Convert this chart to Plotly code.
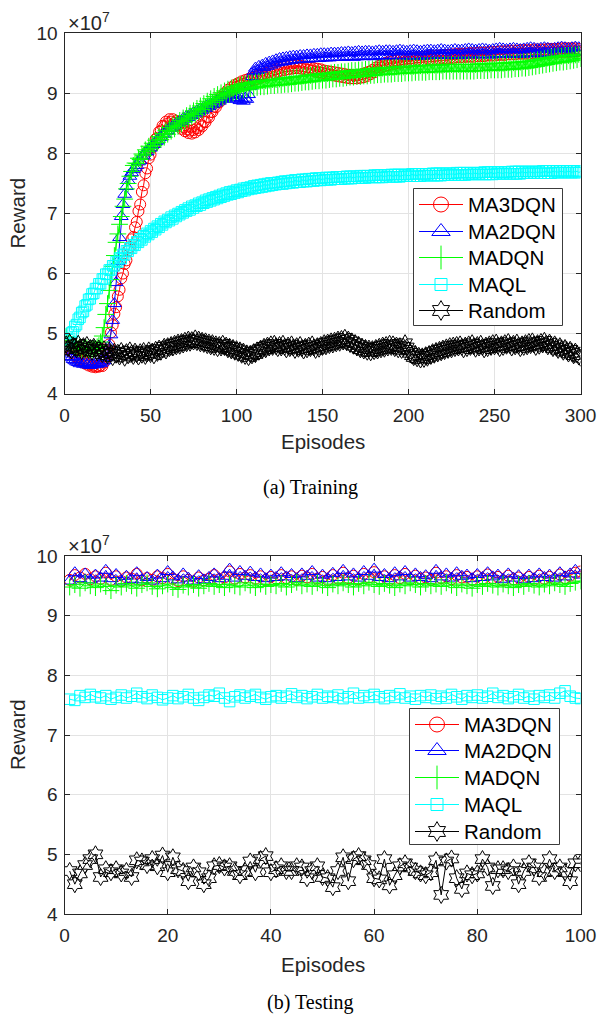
import plotly.graph_objects as go

# Reward values are in units of 1e7 (the axis carries the "x10^7" multiplier).
episodes_train = list(range(1, 301))
episodes_test = list(range(1, 101))

ma3dqn_train = [
    4.80, 4.76, 4.78, 4.70, 4.68, 4.63, 4.61, 4.58, 4.57, 4.53, 4.55, 4.50, 4.51, 4.47, 4.49, 4.45, 4.47, 4.44, 4.46, 4.45,
    4.47, 4.46, 4.52, 4.58, 4.70, 4.82, 5.02, 5.14, 5.33, 5.44, 5.62, 5.73, 5.92, 6.00, 6.16, 6.22, 6.38, 6.44, 6.57, 6.61,
    6.77, 6.86, 7.04, 7.15, 7.36, 7.47, 7.67, 7.75, 7.92, 7.98, 8.10, 8.13, 8.24, 8.26, 8.36, 8.38, 8.46, 8.45, 8.53, 8.50,
    8.57, 8.53, 8.57, 8.51, 8.54, 8.47, 8.49, 8.41, 8.44, 8.37, 8.40, 8.34, 8.38, 8.33, 8.39, 8.35, 8.42, 8.39, 8.47, 8.45,
    8.53, 8.52, 8.61, 8.60, 8.69, 8.69, 8.78, 8.77, 8.86, 8.85, 8.94, 8.92, 9.00, 8.98, 9.06, 9.03, 9.10, 9.06, 9.14, 9.11,
    9.17, 9.13, 9.20, 9.16, 9.22, 9.18, 9.24, 9.20, 9.26, 9.22, 9.28, 9.24, 9.30, 9.26, 9.32, 9.28, 9.34, 9.30, 9.36, 9.32,
    9.38, 9.34, 9.40, 9.36, 9.42, 9.38, 9.44, 9.39, 9.45, 9.40, 9.46, 9.41, 9.46, 9.42, 9.47, 9.42, 9.46, 9.41, 9.45, 9.40,
    9.44, 9.39, 9.43, 9.38, 9.42, 9.36, 9.41, 9.35, 9.40, 9.34, 9.38, 9.33, 9.37, 9.31, 9.36, 9.30, 9.35, 9.29, 9.34, 9.28,
    9.33, 9.27, 9.32, 9.26, 9.31, 9.25, 9.31, 9.25, 9.30, 9.25, 9.31, 9.26, 9.32, 9.27, 9.34, 9.29, 9.36, 9.32, 9.39, 9.35,
    9.43, 9.39, 9.46, 9.43, 9.49, 9.45, 9.51, 9.47, 9.53, 9.48, 9.54, 9.49, 9.55, 9.50, 9.56, 9.51, 9.57, 9.52, 9.58, 9.52,
    9.58, 9.53, 9.59, 9.54, 9.60, 9.54, 9.60, 9.55, 9.61, 9.55, 9.61, 9.56, 9.62, 9.56, 9.62, 9.57, 9.63, 9.57, 9.63, 9.58,
    9.64, 9.58, 9.64, 9.59, 9.65, 9.59, 9.65, 9.60, 9.66, 9.60, 9.66, 9.60, 9.66, 9.61, 9.67, 9.61, 9.67, 9.61, 9.67, 9.62,
    9.68, 9.62, 9.68, 9.62, 9.68, 9.63, 9.69, 9.63, 9.69, 9.63, 9.69, 9.64, 9.70, 9.64, 9.70, 9.64, 9.70, 9.65, 9.71, 9.65,
    9.71, 9.65, 9.71, 9.66, 9.72, 9.66, 9.72, 9.66, 9.72, 9.66, 9.72, 9.67, 9.73, 9.67, 9.73, 9.67, 9.73, 9.67, 9.73, 9.68,
    9.74, 9.68, 9.74, 9.68, 9.74, 9.68, 9.74, 9.69, 9.75, 9.69, 9.75, 9.69, 9.75, 9.69, 9.75, 9.70, 9.75, 9.70, 9.74, 9.70,
]

ma2dqn_train = [
    4.70, 4.66, 4.62, 4.60, 4.57, 4.55, 4.53, 4.52, 4.50, 4.52, 4.49, 4.51, 4.48, 4.50, 4.47, 4.49, 4.48, 4.50, 4.49, 4.52,
    4.50, 4.53, 4.55, 4.60, 4.68, 4.80, 4.98, 5.22, 5.50, 5.85, 6.20, 6.60, 6.95, 7.15, 7.32, 7.45, 7.55, 7.62, 7.68, 7.73,
    7.76, 7.80, 7.86, 7.88, 7.95, 7.96, 8.02, 8.03, 8.08, 8.09, 8.14, 8.15, 8.20, 8.21, 8.26, 8.27, 8.32, 8.32, 8.37, 8.38,
    8.42, 8.42, 8.46, 8.46, 8.50, 8.50, 8.54, 8.53, 8.58, 8.57, 8.62, 8.60, 8.65, 8.63, 8.68, 8.66, 8.71, 8.69, 8.74, 8.72,
    8.77, 8.75, 8.80, 8.78, 8.83, 8.81, 8.86, 8.84, 8.89, 8.87, 8.92, 8.90, 8.95, 8.92, 8.97, 8.93, 8.98, 8.92, 8.96, 8.90,
    8.93, 8.88, 8.91, 8.87, 8.92, 8.90, 8.98, 9.12, 9.28, 9.36, 9.42, 9.38, 9.45, 9.40, 9.47, 9.43, 9.50, 9.45, 9.52, 9.47,
    9.54, 9.49, 9.56, 9.51, 9.58, 9.52, 9.59, 9.53, 9.60, 9.54, 9.61, 9.55, 9.62, 9.56, 9.62, 9.56, 9.63, 9.57, 9.63, 9.57,
    9.64, 9.57, 9.64, 9.58, 9.65, 9.58, 9.65, 9.58, 9.66, 9.59, 9.66, 9.59, 9.66, 9.59, 9.67, 9.60, 9.67, 9.60, 9.67, 9.60,
    9.68, 9.60, 9.68, 9.61, 9.69, 9.61, 9.68, 9.60, 9.69, 9.61, 9.70, 9.62, 9.69, 9.61, 9.70, 9.62, 9.70, 9.62, 9.69, 9.61,
    9.70, 9.62, 9.71, 9.63, 9.70, 9.62, 9.71, 9.63, 9.71, 9.62, 9.70, 9.63, 9.71, 9.63, 9.72, 9.63, 9.71, 9.62, 9.70, 9.62,
    9.71, 9.63, 9.72, 9.63, 9.71, 9.62, 9.70, 9.62, 9.71, 9.63, 9.72, 9.64, 9.72, 9.63, 9.71, 9.63, 9.72, 9.64, 9.73, 9.64,
    9.72, 9.63, 9.71, 9.63, 9.72, 9.64, 9.73, 9.64, 9.72, 9.63, 9.72, 9.64, 9.73, 9.65, 9.74, 9.65, 9.73, 9.64, 9.72, 9.64,
    9.73, 9.65, 9.74, 9.65, 9.73, 9.64, 9.72, 9.64, 9.73, 9.65, 9.74, 9.66, 9.75, 9.66, 9.74, 9.65, 9.73, 9.65, 9.74, 9.66,
    9.75, 9.66, 9.74, 9.65, 9.73, 9.65, 9.74, 9.66, 9.75, 9.67, 9.76, 9.67, 9.75, 9.66, 9.74, 9.66, 9.75, 9.67, 9.76, 9.67,
    9.75, 9.66, 9.74, 9.66, 9.75, 9.67, 9.76, 9.68, 9.77, 9.68, 9.76, 9.67, 9.75, 9.67, 9.76, 9.68, 9.77, 9.69, 9.76, 9.70,
]

madqn_train = [
    4.95, 4.88, 4.84, 4.80, 4.82, 4.77, 4.80, 4.75, 4.78, 4.74, 4.77, 4.73, 4.76, 4.72, 4.75, 4.73, 4.76, 4.74, 4.78, 4.80,
    4.86, 4.96, 5.10, 5.32, 5.50, 5.72, 5.90, 6.12, 6.30, 6.52, 6.66, 6.82, 6.95, 7.12, 7.24, 7.41, 7.50, 7.62, 7.70, 7.80,
    7.84, 7.83, 7.92, 7.90, 7.99, 7.97, 8.06, 8.03, 8.12, 8.08, 8.17, 8.13, 8.22, 8.18, 8.28, 8.23, 8.33, 8.27, 8.38, 8.32,
    8.43, 8.37, 8.47, 8.41, 8.51, 8.45, 8.55, 8.49, 8.59, 8.53, 8.63, 8.57, 8.67, 8.61, 8.71, 8.65, 8.75, 8.69, 8.79, 8.73,
    8.83, 8.77, 8.87, 8.81, 8.91, 8.85, 8.95, 8.88, 8.98, 8.91, 9.01, 8.94, 9.04, 8.97, 9.07, 8.99, 9.09, 9.01, 9.11, 9.03,
    9.13, 9.05, 9.15, 9.06, 9.16, 9.07, 9.17, 9.08, 9.18, 9.09, 9.19, 9.10, 9.20, 9.11, 9.21, 9.11, 9.21, 9.12, 9.22, 9.13,
    9.23, 9.13, 9.23, 9.14, 9.24, 9.14, 9.25, 9.15, 9.26, 9.15, 9.26, 9.16, 9.27, 9.17, 9.28, 9.17, 9.28, 9.18, 9.29, 9.19,
    9.30, 9.19, 9.30, 9.20, 9.31, 9.21, 9.32, 9.21, 9.32, 9.22, 9.33, 9.22, 9.33, 9.23, 9.34, 9.24, 9.35, 9.24, 9.35, 9.25,
    9.36, 9.25, 9.36, 9.26, 9.37, 9.27, 9.38, 9.27, 9.38, 9.28, 9.39, 9.28, 9.39, 9.29, 9.40, 9.29, 9.40, 9.30, 9.41, 9.30,
    9.41, 9.31, 9.42, 9.31, 9.42, 9.32, 9.43, 9.32, 9.43, 9.32, 9.43, 9.33, 9.44, 9.33, 9.44, 9.33, 9.44, 9.34, 9.45, 9.34,
    9.45, 9.34, 9.45, 9.35, 9.46, 9.35, 9.46, 9.35, 9.46, 9.35, 9.46, 9.36, 9.47, 9.36, 9.47, 9.36, 9.47, 9.36, 9.47, 9.37,
    9.48, 9.37, 9.48, 9.37, 9.48, 9.37, 9.48, 9.37, 9.48, 9.37, 9.48, 9.37, 9.48, 9.37, 9.48, 9.37, 9.48, 9.37, 9.48, 9.38,
    9.49, 9.38, 9.49, 9.38, 9.49, 9.38, 9.49, 9.39, 9.50, 9.39, 9.50, 9.39, 9.50, 9.39, 9.50, 9.40, 9.51, 9.40, 9.51, 9.40,
    9.51, 9.41, 9.52, 9.41, 9.52, 9.42, 9.53, 9.42, 9.53, 9.43, 9.54, 9.44, 9.55, 9.45, 9.56, 9.46, 9.57, 9.47, 9.58, 9.48,
    9.59, 9.49, 9.60, 9.50, 9.61, 9.51, 9.62, 9.52, 9.62, 9.52, 9.63, 9.53, 9.63, 9.54, 9.64, 9.55, 9.64, 9.56, 9.65, 9.58,
]

maql_train = [
    4.82, 4.90, 4.92, 5.01, 5.03, 5.12, 5.15, 5.24, 5.27, 5.35, 5.37, 5.46, 5.48, 5.57, 5.58, 5.66, 5.67, 5.75, 5.75, 5.83,
    5.83, 5.91, 5.91, 5.99, 5.99, 6.06, 6.06, 6.13, 6.13, 6.20, 6.19, 6.26, 6.25, 6.32, 6.31, 6.38, 6.37, 6.43, 6.42, 6.48,
    6.47, 6.53, 6.52, 6.58, 6.56, 6.63, 6.61, 6.67, 6.65, 6.71, 6.69, 6.75, 6.73, 6.79, 6.77, 6.83, 6.81, 6.87, 6.85, 6.90,
    6.88, 6.94, 6.91, 6.97, 6.95, 7.00, 6.98, 7.03, 7.01, 7.06, 7.04, 7.09, 7.06, 7.12, 7.09, 7.14, 7.12, 7.17, 7.14, 7.19,
    7.17, 7.22, 7.19, 7.24, 7.21, 7.26, 7.23, 7.28, 7.25, 7.30, 7.27, 7.32, 7.29, 7.34, 7.31, 7.36, 7.32, 7.37, 7.34, 7.39,
    7.35, 7.40, 7.37, 7.42, 7.38, 7.43, 7.40, 7.44, 7.41, 7.46, 7.42, 7.47, 7.43, 7.48, 7.44, 7.49, 7.45, 7.50, 7.46, 7.51,
    7.47, 7.51, 7.48, 7.52, 7.49, 7.53, 7.49, 7.54, 7.50, 7.54, 7.51, 7.55, 7.51, 7.56, 7.52, 7.56, 7.52, 7.57, 7.53, 7.57,
    7.53, 7.58, 7.54, 7.58, 7.54, 7.59, 7.55, 7.59, 7.55, 7.59, 7.56, 7.60, 7.56, 7.60, 7.56, 7.60, 7.57, 7.61, 7.57, 7.61,
    7.57, 7.61, 7.58, 7.62, 7.58, 7.62, 7.58, 7.62, 7.59, 7.62, 7.59, 7.63, 7.59, 7.63, 7.59, 7.63, 7.60, 7.63, 7.60, 7.64,
    7.60, 7.64, 7.60, 7.64, 7.60, 7.64, 7.61, 7.64, 7.61, 7.65, 7.61, 7.65, 7.61, 7.65, 7.61, 7.65, 7.62, 7.65, 7.62, 7.65,
    7.62, 7.66, 7.62, 7.66, 7.62, 7.66, 7.62, 7.66, 7.63, 7.66, 7.63, 7.66, 7.63, 7.67, 7.63, 7.67, 7.63, 7.67, 7.63, 7.67,
    7.64, 7.67, 7.64, 7.67, 7.64, 7.67, 7.64, 7.68, 7.64, 7.68, 7.64, 7.68, 7.64, 7.68, 7.65, 7.68, 7.65, 7.68, 7.65, 7.68,
    7.65, 7.68, 7.65, 7.69, 7.65, 7.69, 7.65, 7.69, 7.65, 7.69, 7.66, 7.69, 7.66, 7.69, 7.66, 7.69, 7.66, 7.69, 7.66, 7.70,
    7.66, 7.70, 7.66, 7.70, 7.66, 7.70, 7.67, 7.70, 7.67, 7.70, 7.67, 7.70, 7.67, 7.70, 7.67, 7.70, 7.67, 7.71, 7.67, 7.71,
    7.67, 7.71, 7.67, 7.71, 7.68, 7.71, 7.68, 7.71, 7.68, 7.71, 7.68, 7.71, 7.68, 7.71, 7.68, 7.71, 7.68, 7.71, 7.68, 7.70,
]

random_train = [
    4.82, 4.76, 4.85, 4.72, 4.80, 4.78, 4.74, 4.83, 4.77, 4.71, 4.79, 4.75, 4.81, 4.73, 4.76, 4.70, 4.78, 4.74, 4.69, 4.75,
    4.71, 4.66, 4.74, 4.68, 4.64, 4.72, 4.67, 4.61, 4.70, 4.65, 4.68, 4.62, 4.71, 4.66, 4.60, 4.69, 4.64, 4.72, 4.67, 4.63,
    4.70, 4.66, 4.62, 4.69, 4.65, 4.71, 4.63, 4.67, 4.72, 4.66, 4.70, 4.64, 4.73, 4.68, 4.75, 4.70, 4.74, 4.78, 4.72, 4.79,
    4.76, 4.81, 4.77, 4.83, 4.79, 4.85, 4.80, 4.86, 4.82, 4.88, 4.84, 4.90, 4.85, 4.89, 4.87, 4.92, 4.86, 4.90, 4.84, 4.88,
    4.83, 4.87, 4.81, 4.85, 4.79, 4.84, 4.78, 4.82, 4.76, 4.81, 4.77, 4.83, 4.78, 4.80, 4.74, 4.78, 4.72, 4.76, 4.70, 4.74,
    4.68, 4.72, 4.65, 4.70, 4.63, 4.67, 4.61, 4.66, 4.64, 4.69, 4.66, 4.72, 4.70, 4.75, 4.73, 4.78, 4.74, 4.80, 4.77, 4.82,
    4.78, 4.83, 4.79, 4.76, 4.81, 4.77, 4.83, 4.78, 4.74, 4.80, 4.76, 4.82, 4.77, 4.73, 4.79, 4.75, 4.81, 4.76, 4.72, 4.78,
    4.74, 4.80, 4.76, 4.82, 4.77, 4.73, 4.79, 4.75, 4.81, 4.78, 4.84, 4.79, 4.85, 4.81, 4.87, 4.82, 4.88, 4.84, 4.90, 4.85,
    4.91, 4.87, 4.93, 4.86, 4.90, 4.83, 4.87, 4.80, 4.84, 4.77, 4.81, 4.74, 4.78, 4.72, 4.76, 4.70, 4.75, 4.69, 4.74, 4.71,
    4.76, 4.72, 4.78, 4.74, 4.80, 4.75, 4.81, 4.77, 4.83, 4.78, 4.82, 4.76, 4.80, 4.74, 4.79, 4.73, 4.78, 4.84, 4.77, 4.72,
    4.68, 4.64, 4.61, 4.66, 4.59, 4.63, 4.57, 4.62, 4.58, 4.64, 4.60, 4.66, 4.63, 4.69, 4.65, 4.71, 4.67, 4.73, 4.69, 4.75,
    4.71, 4.77, 4.73, 4.79, 4.74, 4.80, 4.76, 4.81, 4.77, 4.82, 4.78, 4.74, 4.80, 4.76, 4.82, 4.78, 4.84, 4.79, 4.75, 4.81,
    4.77, 4.83, 4.78, 4.74, 4.80, 4.76, 4.82, 4.78, 4.84, 4.79, 4.85, 4.80, 4.76, 4.82, 4.78, 4.84, 4.80, 4.86, 4.81, 4.77,
    4.83, 4.79, 4.85, 4.80, 4.76, 4.82, 4.78, 4.84, 4.79, 4.86, 4.81, 4.87, 4.82, 4.78, 4.84, 4.80, 4.86, 4.82, 4.88, 4.83,
    4.79, 4.85, 4.80, 4.76, 4.82, 4.77, 4.73, 4.79, 4.74, 4.70, 4.76, 4.71, 4.67, 4.73, 4.68, 4.64, 4.70, 4.66, 4.62, 4.60,
]

ma3dqn_test = [
    9.60, 9.68, 9.64, 9.70, 9.61, 9.66, 9.62, 9.72, 9.60, 9.66, 9.58, 9.64, 9.62, 9.70, 9.59, 9.63, 9.60, 9.66, 9.63, 9.70,
    9.62, 9.58, 9.66, 9.60, 9.57, 9.64, 9.59, 9.62, 9.68, 9.61, 9.64, 9.74, 9.62, 9.70, 9.64, 9.68, 9.62, 9.66, 9.60, 9.65,
    9.62, 9.68, 9.63, 9.66, 9.60, 9.67, 9.64, 9.70, 9.62, 9.65, 9.60, 9.68, 9.62, 9.72, 9.63, 9.67, 9.61, 9.70, 9.64, 9.73,
    9.62, 9.66, 9.60, 9.68, 9.63, 9.70, 9.61, 9.67, 9.62, 9.64, 9.60, 9.72, 9.63, 9.66, 9.61, 9.68, 9.64, 9.65, 9.60, 9.66,
    9.62, 9.69, 9.63, 9.65, 9.59, 9.67, 9.61, 9.64, 9.58, 9.65, 9.60, 9.67, 9.62, 9.65, 9.61, 9.69, 9.63, 9.67, 9.72, 9.74,
]

ma2dqn_test = [
    9.58, 9.72, 9.62, 9.70, 9.60, 9.68, 9.63, 9.76, 9.62, 9.69, 9.58, 9.66, 9.61, 9.72, 9.60, 9.64, 9.58, 9.68, 9.62, 9.74,
    9.65, 9.60, 9.70, 9.63, 9.58, 9.67, 9.60, 9.64, 9.70, 9.62, 9.66, 9.78, 9.63, 9.74, 9.66, 9.73, 9.64, 9.70, 9.62, 9.68,
    9.64, 9.72, 9.65, 9.69, 9.62, 9.70, 9.66, 9.74, 9.63, 9.68, 9.62, 9.71, 9.64, 9.76, 9.65, 9.70, 9.63, 9.74, 9.66, 9.78,
    9.64, 9.69, 9.62, 9.72, 9.65, 9.74, 9.63, 9.70, 9.64, 9.67, 9.62, 9.76, 9.65, 9.70, 9.63, 9.72, 9.66, 9.68, 9.62, 9.69,
    9.64, 9.72, 9.65, 9.68, 9.61, 9.70, 9.63, 9.67, 9.60, 9.68, 9.62, 9.70, 9.64, 9.68, 9.63, 9.72, 9.65, 9.70, 9.76, 9.68,
]

madqn_test = [
    9.48, 9.52, 9.46, 9.55, 9.50, 9.47, 9.53, 9.49, 9.42, 9.51, 9.48, 9.54, 9.50, 9.46, 9.52, 9.55, 9.49, 9.45, 9.50, 9.53,
    9.47, 9.44, 9.51, 9.48, 9.52, 9.46, 9.50, 9.54, 9.49, 9.52, 9.47, 9.53, 9.50, 9.48, 9.55, 9.51, 9.47, 9.53, 9.49, 9.52,
    9.50, 9.54, 9.48, 9.52, 9.56, 9.50, 9.53, 9.49, 9.55, 9.51, 9.47, 9.53, 9.50, 9.55, 9.52, 9.48, 9.54, 9.50, 9.56, 9.52,
    9.49, 9.54, 9.51, 9.47, 9.53, 9.50, 9.55, 9.52, 9.48, 9.54, 9.50, 9.53, 9.49, 9.55, 9.51, 9.47, 9.53, 9.50, 9.46, 9.52,
    9.49, 9.54, 9.51, 9.48, 9.53, 9.50, 9.47, 9.52, 9.49, 9.54, 9.51, 9.48, 9.53, 9.50, 9.55, 9.52, 9.49, 9.54, 9.56, 9.58,
]

maql_test = [
    7.60, 7.58, 7.66, 7.63, 7.68, 7.64, 7.62, 7.66, 7.60, 7.63, 7.67, 7.62, 7.65, 7.70, 7.64, 7.61, 7.67, 7.63, 7.59, 7.62,
    7.66, 7.61, 7.64, 7.68, 7.62, 7.58, 7.63, 7.67, 7.65, 7.70, 7.62, 7.56, 7.64, 7.67, 7.62, 7.65, 7.68, 7.63, 7.60, 7.64,
    7.66, 7.62, 7.65, 7.69, 7.63, 7.66, 7.61, 7.64, 7.68, 7.62, 7.65, 7.63, 7.67, 7.61, 7.64, 7.70, 7.62, 7.66, 7.63, 7.68,
    7.64, 7.61, 7.66, 7.63, 7.69, 7.62, 7.65, 7.60, 7.66, 7.63, 7.67, 7.61, 7.65, 7.62, 7.68, 7.64, 7.60, 7.66, 7.63, 7.67,
    7.62, 7.65, 7.70, 7.63, 7.66, 7.61, 7.64, 7.68, 7.62, 7.65, 7.60, 7.66, 7.63, 7.67, 7.62, 7.70, 7.74, 7.65, 7.62, 7.61,
]

random_test = [
    4.72, 4.50, 4.68, 4.82, 4.92, 5.00, 4.62, 4.75, 4.70, 4.75, 4.68, 4.72, 4.62, 4.90, 4.88, 4.82, 4.92, 4.80, 4.98, 4.70,
    4.95, 4.75, 4.72, 4.55, 4.78, 4.70, 4.50, 4.60, 4.80, 4.82, 4.78, 4.80, 4.72, 4.65, 4.72, 4.88, 4.70, 4.92, 4.97, 4.70,
    4.75, 4.80, 4.72, 4.72, 4.80, 4.78, 4.60, 4.72, 4.80, 4.62, 4.60, 4.45, 4.72, 4.95, 4.55, 4.92, 4.97, 4.90, 4.82, 4.60,
    4.58, 4.92, 4.48, 4.65, 4.80, 4.85, 4.78, 4.72, 4.68, 4.65, 4.70, 4.90, 4.32, 4.88, 4.93, 4.60, 4.42, 4.68, 4.65, 4.68,
    4.92, 4.78, 4.47, 4.75, 4.75, 4.72, 4.78, 4.50, 4.72, 4.85, 4.78, 4.62, 4.70, 4.92, 4.72, 4.78, 4.70, 4.55, 4.85, 4.85,
]

for _name, _vals, _n in [
    ("ma3dqn_train", ma3dqn_train, 300), ("ma2dqn_train", ma2dqn_train, 300),
    ("madqn_train", madqn_train, 300), ("maql_train", maql_train, 300),
    ("random_train", random_train, 300), ("ma3dqn_test", ma3dqn_test, 100),
    ("ma2dqn_test", ma2dqn_test, 100), ("madqn_test", madqn_test, 100),
    ("maql_test", maql_test, 100), ("random_test", random_test, 100),
]:
    assert len(_vals) == _n, (_name, len(_vals))

labels = ["MA3DQN", "MA2DQN", "MADQN", "MAQL", "Random"]
colors = ["#ff0000", "#0000ff", "#00ff00", "#00ffff", "#000000"]
symbols = ["circle-open", "triangle-up-open", "cross-thin-open", "square-open", "hexagram-open"]
sizes = [11, 12, 12, 10.5, 13]
legend_sizes = [15, 16, 17, 12, 15]

W, H = 598, 1020


def px(x):
    return x / W


def py(y):
    return 1 - y / H


fig = go.Figure()

train_series = [ma3dqn_train, ma2dqn_train, madqn_train, maql_train, random_train]
test_series = [ma3dqn_test, ma2dqn_test, madqn_test, maql_test, random_test]


def add_series(xs, series, xa, ya):
    for lab, col, sym, sz, ys in zip(labels, colors, symbols, sizes, series):
        fig.add_trace(go.Scatter(
            x=xs, y=ys, name=lab, mode="lines+markers", showlegend=False,
            line=dict(color=col, width=1),
            marker=dict(symbol=sym, size=sz, color=col, line=dict(color=col, width=1)),
            xaxis=xa, yaxis=ya,
        ))


add_series(episodes_train, train_series, "x", "y")
add_series(episodes_test, test_series, "x2", "y2")

AX = "#262626"
sans = "Liberation Sans, Arial, sans-serif"
serif = "Liberation Serif, Times New Roman, serif"
tick_font = dict(family=sans, size=19, color=AX)
axis_style = dict(
    showline=True, linecolor=AX, linewidth=1, mirror="ticks",
    ticks="inside", ticklen=5, tickwidth=1, tickcolor=AX,
    showgrid=True, gridcolor="#e3e3e3", gridwidth=1, zeroline=False,
    tickfont=tick_font, automargin=False,
)

xdom = [px(64.5), px(580.5)]
fig.update_layout(
    width=W, height=H,
    margin=dict(l=0, r=0, t=0, b=0, pad=0),
    paper_bgcolor="white", plot_bgcolor="rgba(0,0,0,0)",
    showlegend=False,
    xaxis=dict(domain=xdom, range=[0, 300], tickmode="array", ticklabelstandoff=4,
               tickvals=[0, 50, 100, 150, 200, 250, 300], anchor="y", **axis_style),
    yaxis=dict(domain=[py(393.7), py(33.3)], range=[4, 10], tickmode="array", ticklabelstandoff=2,
               tickvals=[4, 5, 6, 7, 8, 9, 10], anchor="x", **axis_style),
    xaxis2=dict(domain=xdom, range=[0, 100], tickmode="array", ticklabelstandoff=4,
                tickvals=[0, 20, 40, 60, 80, 100], anchor="y2", **axis_style),
    yaxis2=dict(domain=[py(914), py(556)], range=[4, 10], tickmode="array", ticklabelstandoff=2,
                tickvals=[4, 5, 6, 7, 8, 9, 10], anchor="x2", **axis_style),
    # full-page overlay in pixel units, used only for the legend boxes
    xaxis3=dict(domain=[0, 1], range=[0, W], visible=False, fixedrange=True, anchor="y3"),
    yaxis3=dict(domain=[0, 1], range=[H, 0], visible=False, fixedrange=True, anchor="x3"),
)

ann = []


def add_legend(x0, y0, x1, y1, rows, lx0, lx1, tx):
    fig.add_trace(go.Scatter(
        x=[x0, x1, x1, x0, x0], y=[y0, y0, y1, y1, y0], mode="lines",
        fill="toself", fillcolor="white", line=dict(color="#3c3c3c", width=1),
        showlegend=False, hoverinfo="skip", xaxis="x3", yaxis="y3",
    ))
    for lab, col, sym, sz, ry in zip(labels, colors, symbols, legend_sizes, rows):
        fig.add_trace(go.Scatter(
            x=[lx0, lx1], y=[ry, ry], mode="lines", line=dict(color=col, width=1),
            showlegend=False, hoverinfo="skip", xaxis="x3", yaxis="y3",
        ))
        fig.add_trace(go.Scatter(
            x=[(lx0 + lx1) / 2], y=[ry], mode="markers",
            marker=dict(symbol=sym, size=sz, color=col, line=dict(color=col, width=1)),
            showlegend=False, hoverinfo="skip", xaxis="x3", yaxis="y3",
        ))
        ann.append(dict(text=lab, x=tx, y=ry, xref="x3", yref="y3",
                        xanchor="left", yanchor="middle", showarrow=False,
                        font=dict(family=sans, size=20.5, color="black")))


add_legend(413.5, 188.5, 562.5, 325.5, [204.5, 231.5, 257.5, 284.5, 310.5], 419, 463, 466)
add_legend(409.5, 708.5, 559.5, 844.5, [724.5, 750.5, 777.5, 804.5, 831.5], 415, 459, 462)

for top in (33.3, 556):
    ann.append(dict(text="×10<sup>7</sup>", x=px(66), y=py(top - 12), xref="paper", yref="paper",
                    xanchor="left", yanchor="middle", showarrow=False,
                    font=dict(family=sans, size=20, color=AX)))
for yc in ((33.3 + 393.7) / 2, (556 + 914) / 2):
    ann.append(dict(text="Reward", x=px(17), y=py(yc), xref="paper", yref="paper",
                    xanchor="center", yanchor="middle", textangle=-90, showarrow=False,
                    font=dict(family=sans, size=20.5, color=AX)))
for yc in (441, 964):
    ann.append(dict(text="Episodes", x=px(322.5), y=py(yc), xref="paper", yref="paper",
                    xanchor="center", yanchor="middle", showarrow=False,
                    font=dict(family=sans, size=20.5, color=AX)))
ann.append(dict(text="(a) Training", x=px(310), y=py(487), xref="paper", yref="paper",
                xanchor="center", yanchor="middle", showarrow=False,
                font=dict(family=serif, size=20, color="black")))
ann.append(dict(text="(b) Testing", x=px(310), y=py(1002), xref="paper", yref="paper",
                xanchor="center", yanchor="middle", showarrow=False,
                font=dict(family=serif, size=20, color="black")))
fig.update_layout(annotations=ann)

fig.write_html("out.html")
